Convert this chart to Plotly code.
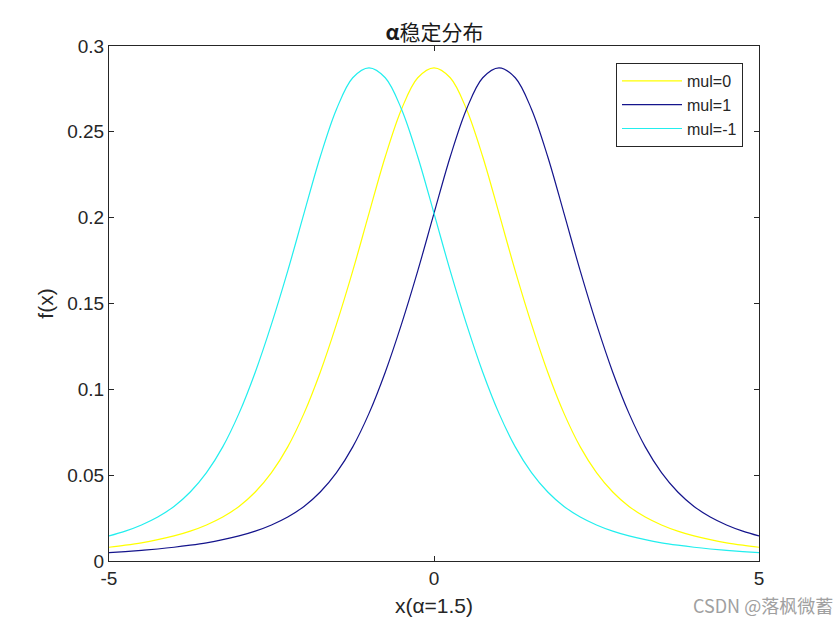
import plotly.graph_objects as go

# distance from centre (|x - mu|) and density
dist = [0, 0.25, 0.5, 0.75, 1.0, 1.25, 1.5, 1.75, 2.0, 2.25, 2.5, 2.75, 3.0,
        3.25, 3.5, 3.75, 4.0, 4.25, 4.5, 4.75, 5.0, 5.25, 5.5, 5.75, 6.0]
density = [0.2873, 0.2815, 0.2632, 0.2355, 0.2025, 0.1690, 0.1380, 0.1100,
           0.0860, 0.0665, 0.0515, 0.0402, 0.0318, 0.0256, 0.0210, 0.0174,
           0.0146, 0.0124, 0.0106, 0.0092, 0.0080, 0.0070, 0.0062, 0.0055, 0.0049]

x_grid = [i * 0.25 - 5 for i in range(41)]
mus = [0, 1, -1]
names = ["mul=0", "mul=1", "mul=-1"]
colors = ["#FFFF00", "#14148C", "#22EEEE"]

lookup = {round(d, 2): v for d, v in zip(dist, density)}

fig = go.Figure()
for mu, name, col in zip(mus, names, colors):
    ys = [lookup[round(abs(x - mu), 2)] for x in x_grid]
    fig.add_trace(go.Scatter(x=x_grid, y=ys, mode="lines", name=name,
                             line=dict(color=col, width=1.2, shape="spline", smoothing=1.0)))

axis_common = dict(showline=True, linecolor="#262626", linewidth=1, mirror="ticks",
                   ticks="inside", ticklen=5, tickcolor="#262626", showgrid=False,
                   zeroline=False, tickfont=dict(family="Liberation Sans, Arial", size=19, color="#262626"))

fig.update_layout(
    width=840, height=630,
    margin=dict(l=109, r=81, t=46, b=69),
    paper_bgcolor="white", plot_bgcolor="white",
    title=dict(text="<b>α</b>稳定分布", x=434.5 / 840, xanchor="center", y=1 - 33 / 630, yanchor="middle",
               font=dict(family="Noto Sans CJK SC", size=21, color="#1a1a1a")),
    xaxis=dict(range=[-5, 5], tickvals=[-5, 0, 5], ticktext=["-5", "0", "5"],
               title=dict(text="x(α=1.5)", standoff=10,
                          font=dict(family="Liberation Sans, Arial", size=21, color="#262626")),
               **axis_common),
    yaxis=dict(range=[0, 0.3], tickvals=[0, 0.05, 0.1, 0.15, 0.2, 0.25, 0.3],
               ticktext=["0", "0.05", "0.1", "0.15", "0.2", "0.25", "0.3"],
               title=dict(text="f(x)", standoff=7,
                          font=dict(family="Liberation Sans, Arial", size=21, color="#262626")),
               **axis_common),
    legend=dict(x=(743 - 109) / 650, xanchor="right", y=(561 - 63) / 515, yanchor="top",
                bgcolor="white", bordercolor="#262626", borderwidth=1,
                font=dict(family="Liberation Sans, Arial", size=16, color="#262626"),
                tracegroupgap=0, itemwidth=60),
    showlegend=True,
)

fig.add_annotation(text="CSDN @落枫微蓄", xref="paper", yref="paper",
                   x=(835 - 109) / 650, y=(561 - 605) / 515, xanchor="right", yanchor="middle",
                   showarrow=False,
                   font=dict(family="Noto Sans CJK SC", size=18, color="#a0a0a0"))

fig.write_html("out.html")
